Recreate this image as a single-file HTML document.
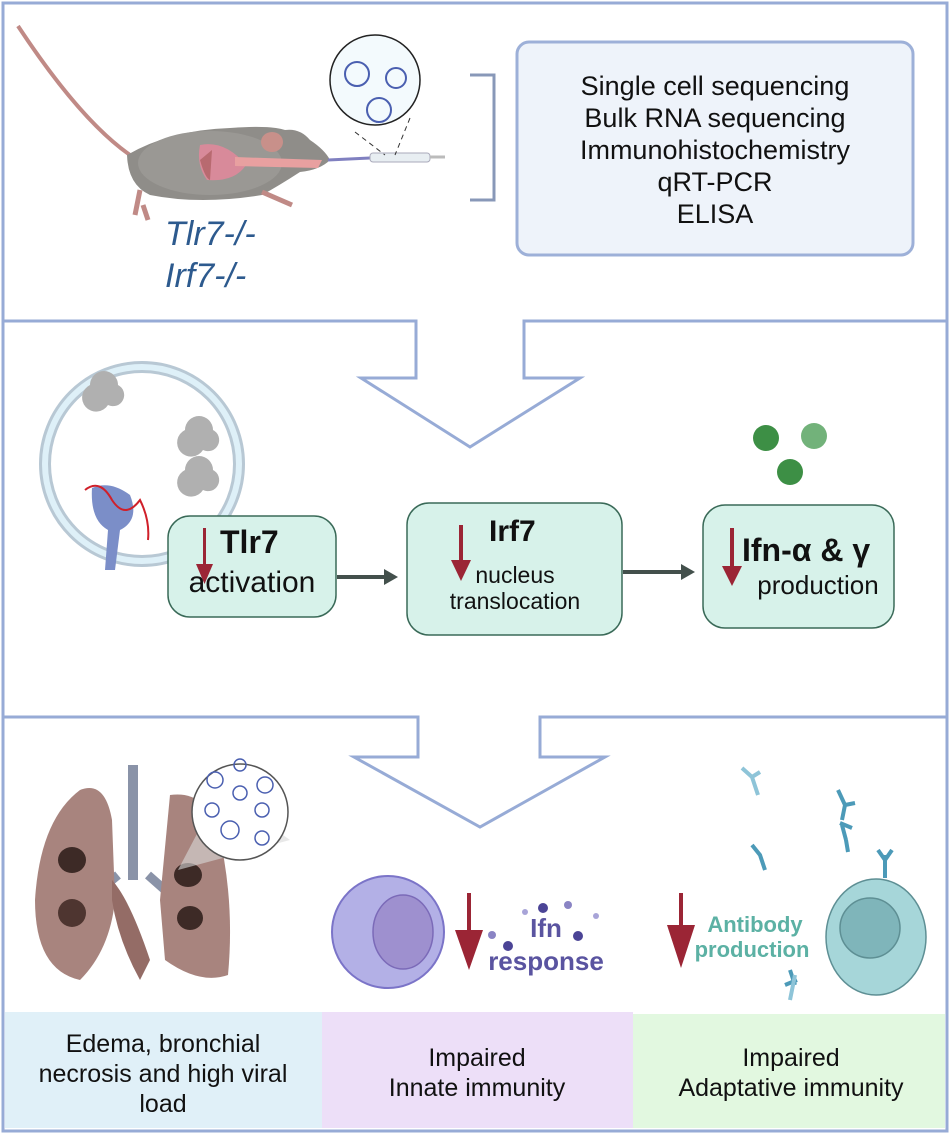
<!DOCTYPE html>
<html><head><meta charset="utf-8"><style>
html,body{margin:0;padding:0;background:#fff}
svg{display:block}
text{font-family:"Liberation Sans",sans-serif}
</style></head><body>
<svg width="950" height="1134" viewBox="0 0 950 1134" xmlns="http://www.w3.org/2000/svg">
<rect x="3" y="3" width="944" height="1128" fill="none" stroke="#97abd6" stroke-width="3"/>
<path d="M3 321 H416 V378 H361 L470 447 L580 378 H524 V321 H947" fill="none" stroke="#97abd6" stroke-width="3"/>
<path d="M3 717 H418 V757 H354 L480 827 L605 757 H540 V717 H947" fill="none" stroke="#97abd6" stroke-width="3"/>

<rect x="517" y="42" width="396" height="213" rx="12" fill="#eef3fa" stroke="#9db0d8" stroke-width="3"/>
<g font-size="27" fill="#111" text-anchor="middle">
<text x="715" y="95">Single cell sequencing</text>
<text x="715" y="127">Bulk RNA sequencing</text>
<text x="715" y="159">Immunohistochemistry</text>
<text x="715" y="191">qRT-PCR</text>
<text x="715" y="223">ELISA</text>
</g>
<path d="M470 75 H494 V200 H470" fill="none" stroke="#8898b8" stroke-width="3"/>

<!-- mouse -->
<path d="M18 26 Q80 120 130 155" fill="none" stroke="#c08a86" stroke-width="4"/>
<path d="M127 155 Q170 130 230 128 Q270 125 285 130 Q300 128 310 140 Q325 150 330 160 Q320 170 300 172 Q280 185 262 195 Q200 205 150 195 Q128 185 127 155Z" fill="#8f8d89"/>
<ellipse cx="210" cy="163" rx="72" ry="32" fill="#9a9894"/>
<path d="M200 145 Q225 140 246 165 Q235 182 207 180 Q196 165 200 145Z" fill="#d88a9a"/>
<path d="M200 160 Q205 178 210 180 L212 150Z" fill="#b86a70"/>
<path d="M235 157 L322 160 L318 168 L235 166Z" fill="#e8a0a0"/>
<ellipse cx="272" cy="142" rx="11" ry="10" fill="#c8908a"/>
<path d="M140 190 L135 215 M143 205 L148 220" stroke="#c08a86" stroke-width="5" fill="none"/>
<path d="M262 192 L292 205" stroke="#c08a86" stroke-width="5" fill="none"/>
<path d="M328 160 L370 158" stroke="#8080c0" stroke-width="3"/>
<rect x="370" y="153" width="60" height="9" rx="3" fill="#e8eef2" stroke="#aab"/>
<path d="M430 157 L445 157" stroke="#bbb" stroke-width="3"/>
<circle cx="375" cy="80" r="45" fill="#f3fafd" stroke="#222" stroke-width="1.5"/>
<g fill="none" stroke="#4a5fb0" stroke-width="2">
<circle cx="357" cy="74" r="12"/><circle cx="396" cy="78" r="10"/><circle cx="379" cy="110" r="12"/>
</g>
<path d="M355 132 L385 155 M410 118 L395 155" stroke="#333" stroke-dasharray="5 4" fill="none"/>
<g font-size="34" font-style="italic" fill="#2d5a8e">
<text x="165" y="245">Tlr7-/-</text>
<text x="165" y="287">Irf7-/-</text>
</g>

<!-- endosome -->
<circle cx="142" cy="464" r="97" fill="none" stroke="#b8c8d4" stroke-width="12"/>
<circle cx="142" cy="464" r="97" fill="none" stroke="#def0f8" stroke-width="6"/>
<g fill="#b0b0b0">
<path d="M90 385 a14 14 0 1 1 28 0 a10 10 0 0 1 -10 20 a14 14 0 1 1 -18 -20Z"/>
<path d="M185 430 a14 14 0 1 1 28 0 a10 10 0 0 1 -10 20 a14 14 0 1 1 -18 -20Z"/>
<path d="M185 470 a14 14 0 1 1 28 0 a10 10 0 0 1 -10 20 a14 14 0 1 1 -18 -20Z"/>
</g>
<path d="M92 488 Q110 480 130 495 Q140 520 120 530 L115 570 L105 570 L108 530 Q90 520 92 488Z" fill="#7b8ec8"/>
<path d="M85 490 Q100 478 112 500 Q125 520 140 500 Q150 520 148 540" fill="none" stroke="#d0202a" stroke-width="2"/>

<g fill="#d7f2ea" stroke="#3a6a58" stroke-width="1.5">
<rect x="168" y="516" width="168" height="101" rx="22"/>
<rect x="407" y="503" width="215" height="132" rx="22"/>
<rect x="703" y="505" width="191" height="123" rx="22"/>
</g>
<g stroke="#43504c" stroke-width="4" fill="#43504c">
<line x1="337" y1="577" x2="385" y2="577"/><path d="M384 569 L398 577 L384 585Z" stroke="none"/>
<line x1="623" y1="572" x2="682" y2="572"/><path d="M681 564 L695 572 L681 580Z" stroke="none"/>
</g>
<g fill="#9b2535">
<rect x="203" y="528" width="3" height="40"/><path d="M196 564 L213 564 L204.5 584Z"/>
<rect x="459" y="525" width="4" height="40"/><path d="M451 560 L471 560 L461 581Z"/>
<rect x="730" y="528" width="4" height="42"/><path d="M722 566 L742 566 L732 586Z"/>
</g>
<g fill="#111">
<text x="220" y="553" font-size="32" font-weight="bold">Tlr7</text>
<text x="252" y="592" font-size="30" text-anchor="middle">activation</text>
<text x="489" y="541" font-size="30" font-weight="bold">Irf7</text>
<text x="515" y="583" font-size="23" text-anchor="middle">nucleus</text>
<text x="515" y="609" font-size="23" text-anchor="middle">translocation</text>
<text x="742" y="561" font-size="32" font-weight="bold">Ifn-α &amp; γ</text>
<text x="818" y="594" font-size="26" text-anchor="middle">production</text>
</g>
<circle cx="766" cy="438" r="13" fill="#3d8f45"/>
<circle cx="814" cy="436" r="13" fill="#72b27a"/>
<circle cx="790" cy="472" r="13" fill="#3d8f45"/>

<!-- lungs -->
<rect x="128" y="765" width="10" height="115" fill="#8a93a8"/>
<path d="M118 875 L100 890 M148 875 L165 890" stroke="#8a93a8" stroke-width="9"/>
<path d="M80 790 Q40 820 35 900 Q35 970 80 980 Q110 950 115 900 L112 820 Q105 780 80 790Z" fill="#a8847e"/>
<path d="M170 795 Q205 790 218 830 Q235 900 228 975 Q200 985 165 960 L160 900 Z" fill="#a8847e"/>
<path d="M112 880 Q130 900 150 960 L140 980 Q118 940 112 900Z" fill="#946c66"/>
<ellipse cx="72" cy="860" rx="14" ry="13" fill="#3d2a26"/>
<ellipse cx="72" cy="913" rx="14" ry="14" fill="#4e3530"/>
<ellipse cx="188" cy="875" rx="14" ry="12" fill="#3d2a26"/>
<ellipse cx="190" cy="918" rx="13" ry="12" fill="#3d2a26"/>
<path d="M178 870 L220 790 L290 840Z" fill="#d8d8d8" opacity="0.6"/>
<circle cx="240" cy="812" r="48" fill="#fff" stroke="#555" stroke-width="1.5"/>
<g fill="none" stroke="#4a5fb0" stroke-width="1.5">
<circle cx="215" cy="780" r="8"/><circle cx="240" cy="765" r="6"/><circle cx="265" cy="785" r="8"/>
<circle cx="212" cy="810" r="7"/><circle cx="240" cy="793" r="7"/><circle cx="262" cy="810" r="7"/>
<circle cx="230" cy="830" r="9"/><circle cx="262" cy="838" r="7"/>
</g>

<ellipse cx="388" cy="932" rx="56" ry="56" fill="#b3b0e6" stroke="#7b74c8" stroke-width="2"/>
<ellipse cx="403" cy="932" rx="30" ry="37" fill="#9e90cf" stroke="#7b6ab8" stroke-width="1.5"/>
<rect x="467" y="893" width="4" height="40" fill="#9b2535"/>
<path d="M455 930 L483 930 L469 970Z" fill="#9b2535"/>
<g fill="#4b4496">
<circle cx="543" cy="908" r="5"/><circle cx="568" cy="905" r="4" fill="#8a84c4"/><circle cx="578" cy="936" r="5"/>
<circle cx="508" cy="946" r="5"/><circle cx="492" cy="935" r="4" fill="#8a84c4"/><circle cx="525" cy="912" r="3" fill="#a8a4d8"/>
<circle cx="596" cy="916" r="3" fill="#a8a4d8"/>
</g>
<g fill="#5a54a0" font-weight="bold" text-anchor="middle">
<text x="546" y="937" font-size="26">Ifn</text>
<text x="546" y="970" font-size="26">response</text>
</g>

<rect x="679" y="893" width="4" height="40" fill="#9b2535"/>
<path d="M667 925 L695 925 L681 968Z" fill="#9b2535"/>
<g fill="#5cb1a4" font-weight="bold" text-anchor="middle">
<text x="755" y="932" font-size="22">Antibody</text>
<text x="752" y="957" font-size="22">production</text>
</g>
<ellipse cx="876" cy="937" rx="50" ry="58" fill="#a6d6d9" stroke="#5e8f94" stroke-width="1.5"/>
<ellipse cx="870" cy="928" rx="30" ry="30" fill="#7fb5ba" stroke="#5e8f94" stroke-width="1.5"/>
<g stroke="#4c9ab8" stroke-width="4" fill="none">
<path d="M842 825 L846 840 M840 823 L852 828 M846 840 L848 852"/>
<path d="M838 790 L845 805 L842 820 M845 805 L855 803"/>
<path d="M752 845 L760 855 L765 870"/>
<path d="M885 855 L885 878 M878 850 L885 860 L892 850"/>
<path d="M790 970 L795 985 M785 985 L797 980"/>
</g>
<g stroke="#8ec4d8" stroke-width="4" fill="none">
<path d="M742 768 L752 777 L760 772 M752 777 L758 795"/>
<path d="M795 975 L790 1000"/>
</g>

<rect x="5" y="1012" width="317" height="116" fill="#e0f0f8"/>
<rect x="322" y="1012" width="311" height="116" fill="#eddff8"/>
<rect x="633" y="1014" width="312" height="114" fill="#e2f8e0"/>
<g font-size="25" fill="#111" text-anchor="middle">
<text x="163" y="1052">Edema, bronchial</text>
<text x="163" y="1082">necrosis and high viral</text>
<text x="163" y="1112">load</text>
<text x="477" y="1066">Impaired</text>
<text x="477" y="1096">Innate immunity</text>
<text x="791" y="1066">Impaired</text>
<text x="791" y="1096">Adaptative immunity</text>
</g>
</svg>
</body></html>
